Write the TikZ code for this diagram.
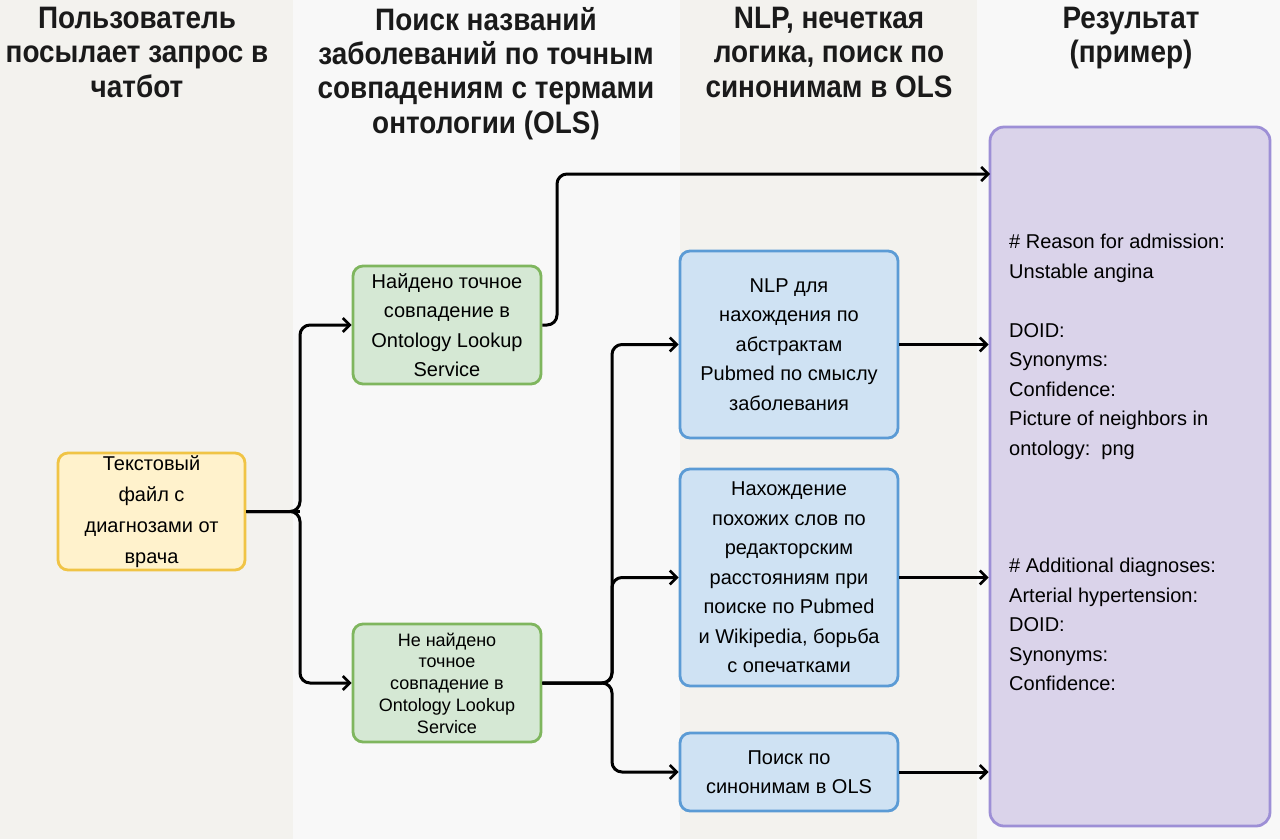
\documentclass[tikz,border=0pt]{standalone}
\usepackage{fontspec}
\setmainfont{Liberation Sans}
\newfontfamily\hdrfont{Liberation Sans}[FakeStretch=0.9]
\usetikzlibrary{arrows.meta}
\definecolor{bgdark}{HTML}{F3F2EE}
\definecolor{bglight}{HTML}{F8F8F8}
\definecolor{yfill}{HTML}{FFF2CC}
\definecolor{ydraw}{HTML}{F0C445}
\definecolor{gfill}{HTML}{D5E8D4}
\definecolor{gdraw}{HTML}{7FB65E}
\definecolor{bfill}{HTML}{CFE2F3}
\definecolor{bdraw}{HTML}{5B9BD5}
\definecolor{pfill}{HTML}{DAD3EA}
\definecolor{pdraw}{HTML}{9D8FD6}
\definecolor{txt}{HTML}{1A1A1A}
\tikzset{
  hdr/.style={anchor=north, align=center, inner sep=0pt, text=txt,
    font=\hdrfont\bfseries\fontsize{31}{34.3}\selectfont},
  box/.style={rounded corners=10pt, line width=2.8pt, align=center, inner sep=0pt,
    text=black, font=\fontsize{20}{29.5}\selectfont},
  ybox/.style={box, fill=yfill, draw=ydraw, minimum width=187pt, minimum height=117pt},
  gbox/.style={box, fill=gfill, draw=gdraw, minimum width=188pt, minimum height=118pt},
  bbox/.style={box, fill=bfill, draw=bdraw, minimum width=218pt},
  pbox/.style={rounded corners=14pt, line width=2.8pt, fill=pfill, draw=pdraw},
  ptext/.style={anchor=north west, align=left, inner sep=0pt, text=black,
    font=\fontsize{20}{29.5}\selectfont},
  conn/.style={line width=3pt, rounded corners=10pt,
    -{Straight Barb[length=7pt,width=14pt,line width=2.6pt]}},
  link/.style={line width=3pt, rounded corners=10pt}
}
\begin{document}
\begin{tikzpicture}[x=1pt,y=-1pt]
\useasboundingbox (0,0) rectangle (1280,839);
% column backgrounds
\fill[bgdark] (0,0) rectangle (293,839);
\fill[bglight] (293,0) rectangle (680,839);
\fill[bgdark] (680,0) rectangle (977,839);
\fill[bglight] (977,0) rectangle (1280,839);
% headers
\node[hdr] (h1) at (137,7) {Пользователь\\посылает запрос в\\чатбот};
\node[hdr] (h2) at (486,7) {Поиск названий\\заболеваний по точным\\совпадениям с термами\\онтологии (OLS)};
\node[hdr] (h3) at (829,7) {NLP, нечеткая\\логика, поиск по\\синонимам в OLS};
\node[hdr] (h4) at (1131,7) {Результат\\(пример)};
% boxes
\node[ybox, font=\fontsize{20}{31}\selectfont] (yel) at (151.5,511.5) {Текстовый\\файл с\\диагнозами от\\врача};
\node[gbox] (g1) at (447,325) {Найдено точное\\совпадение в\\Ontology Lookup\\Service};
\node[gbox, font=\fontsize{18}{21.8}\selectfont] (g2) at (447,683) {Не найдено\\точное\\совпадение в\\Ontology Lookup\\Service};
\node[bbox, minimum height=187pt] (b1) at (789,344.5) {NLP для\\нахождения по\\абстрактам\\Pubmed по смыслу\\заболевания};
\node[bbox, minimum height=217pt] (b2) at (789,577.5) {Нахождение\\похожих слов по\\редакторским\\расстояниям при\\поиске по Pubmed\\и Wikipedia, борьба\\с опечатками};
\node[bbox, minimum height=78pt] (b3) at (789,772) {Поиск по\\синонимам в OLS};
\node[pbox, minimum width=280pt, minimum height=699pt] (pur) at (1130,476.5) {};
\node[ptext] (pt1) at (1009,234) {\# Reason for admission:\\Unstable angina\\[29.5pt]DOID:\\Synonyms:\\Confidence:\\Picture of neighbors in\\ontology:\ \ png};
\node[ptext] (pt2) at (1009,558) {\# Additional diagnoses:\\Arterial hypertension:\\DOID:\\Synonyms:\\Confidence:};
% connectors
\coordinate (t1) at (990,174);
\draw[link] (yel.east) -- (300,511.5);
\draw[conn] (yel.east) -- (300,511.5) |- (g1.west);
\draw[conn] (yel.east) -- (300,511.5) |- (g2.west);
\draw[conn] (g1.east) -- (557,325) |- (t1);
\draw[conn] (g2.east) -- (612,683) |- (b1.west);
\draw[conn] (g2.east) -- (612,683) |- (b2.west);
\draw[conn] (g2.east) -- (612,683) |- (b3.west);
\draw[conn] (b1.east) -- (b1.east -| pur.west);
\draw[conn] (b2.east) -- (b2.east -| pur.west);
\draw[conn] (b3.east) -- (b3.east -| pur.west);
\end{tikzpicture}
\end{document}
